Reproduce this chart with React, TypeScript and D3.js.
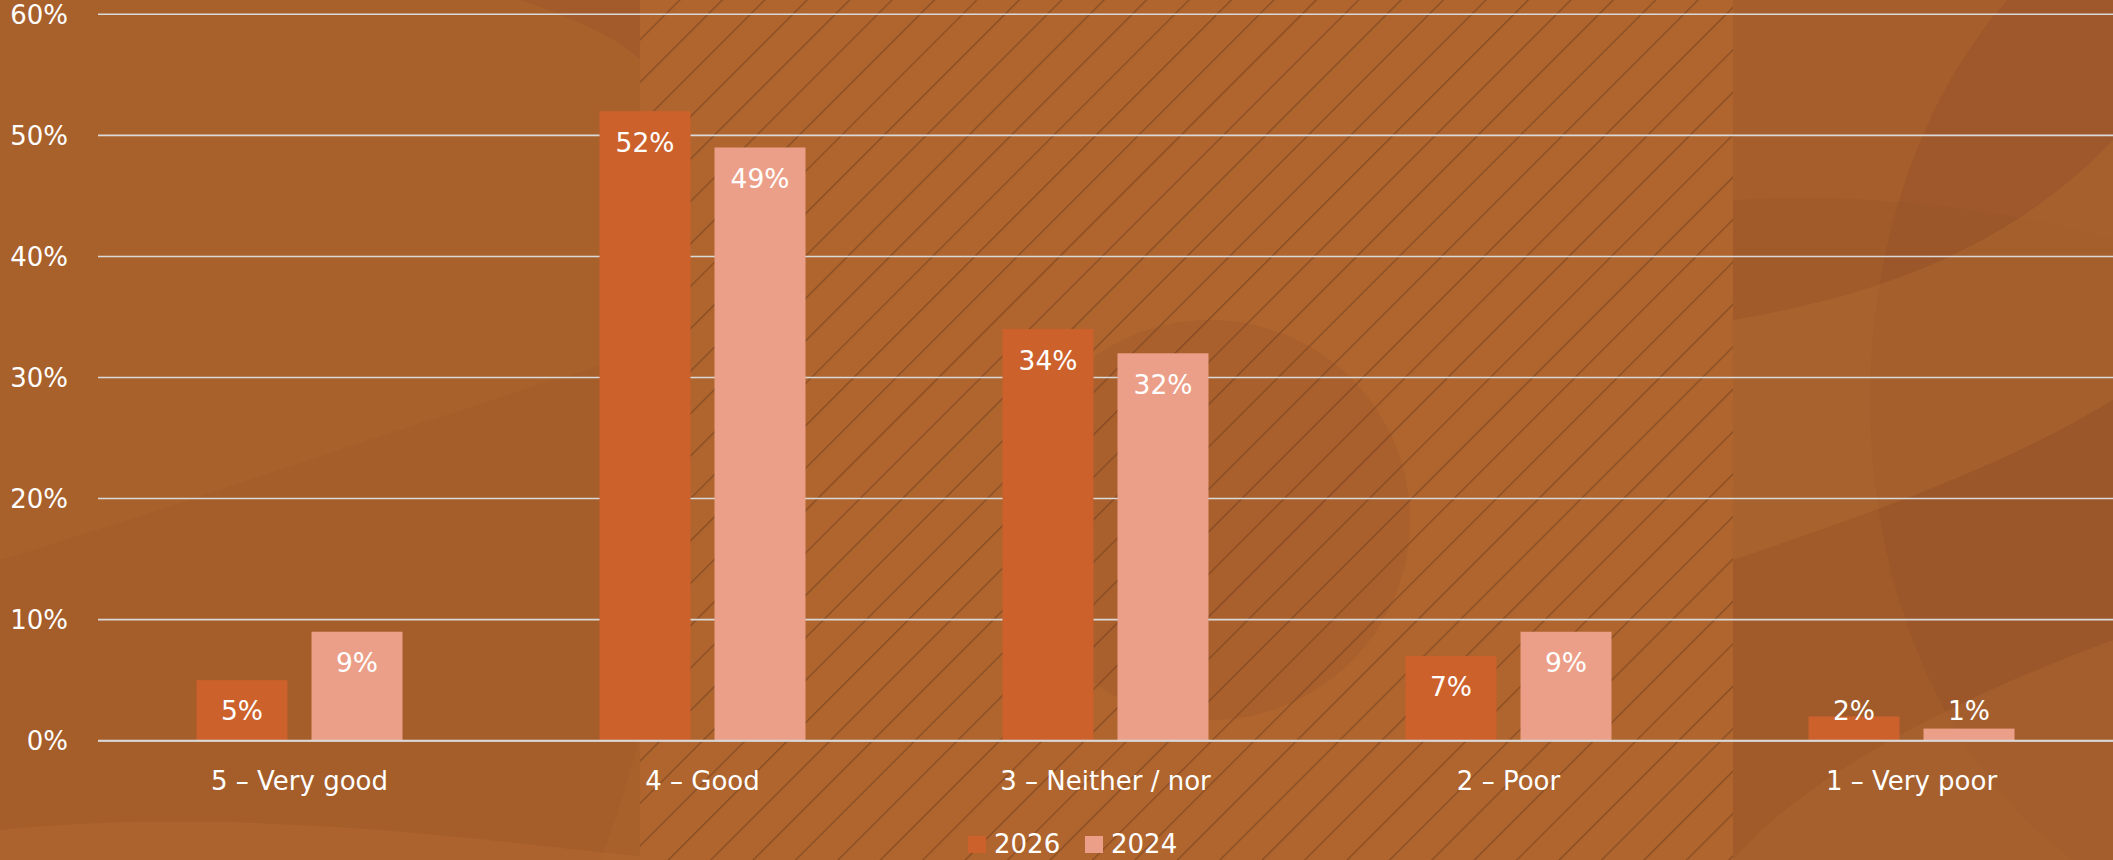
import React from "react";
import * as d3 from "d3";

const categories = ["5 – Very good", "4 – Good", "3 – Neither / nor", "2 – Poor", "1 – Very poor"];
const seriesNames = ["2026", "2024"];
const values2026 = [0.05, 0.52, 0.34, 0.07, 0.02];
const values2024 = [0.09, 0.49, 0.32, 0.09, 0.01];
const yTicks = [0, 0.1, 0.2, 0.3, 0.4, 0.5, 0.6];
const seriesColors = ["#CD612C", "#EC9F88"];

const W = 2113;
const H = 860;
const FONT = "'DejaVu Sans', Verdana, sans-serif";

export default function App() {
  const y = d3.scaleLinear().domain([0, 0.6]).range([740.7, 14.3]);
  const x0 = d3.scaleBand<string>().domain(categories).range([98, 2113]).padding(0);
  const x1 = d3
    .scaleBand<string>()
    .domain(seriesNames)
    .range([0, x0.bandwidth()])
    .paddingInner(0.2087)
    .paddingOuter(0.8565);
  const fmt = d3.format(".0%");
  const seriesValues = [values2026, values2024];

  return (
    <div style={{ position: "fixed", left: 0, top: 0, width: W, height: H }}>
      <svg width={W} height={H} style={{ display: "block" }}>
        <defs>
          <pattern id="hatch" patternUnits="userSpaceOnUse" width="30" height="30" patternTransform="rotate(45)">
            <line x1="0" y1="0" x2="0" y2="30" stroke="#6E3A1C" strokeOpacity="0.6" strokeWidth="2.6" />
          </pattern>
          <clipPath id="hatchClip">
            <rect x={640} y={0} width={1093} height={H} />
          </clipPath>
        </defs>
        {/* background */}
        <rect x={0} y={0} width={W} height={H} fill="#A9612C" />
        <path d="M0,560 C200,500 420,420 620,360 C700,560 640,760 600,860 L0,860 Z" fill="#9E5629" opacity={0.35} />
        <path d="M0,830 C300,800 600,860 700,860 L0,860 Z" fill="#B36A2F" opacity={0.5} />
        <path d="M520,0 C580,20 620,40 640,60 L640,0 Z" fill="#9E5629" opacity={0.5} />
        <g clipPath="url(#hatchClip)">
          <rect x={640} y={0} width={1093} height={H} fill="#AF652D" />
          <circle cx={1210} cy={520} r={200} fill="#A05A2A" opacity={0.4} />
          <rect x={640} y={0} width={1093} height={H} fill="url(#hatch)" />
        </g>
        <path d="M1733,0 L2113,0 L2113,860 L1733,860 Z" fill="#A65E2C" />
        <path d="M1733,200 C1900,190 2050,220 2113,240 L2113,860 L1733,860 Z" fill="#A05A2A" opacity={0.7} />
        <ellipse cx={2250} cy={400} rx={380} ry={520} fill="#95522A" opacity={0.5} />
        <path d="M1733,320 C1850,300 2000,260 2113,140 L2113,400 C2000,470 1850,520 1733,560 Z" fill="#B06A30" opacity={0.45} />
        <path d="M1733,860 C1800,780 1950,700 2113,640 L2113,860 Z" fill="#AA6430" opacity={0.6} />

        {/* gridlines */}
        {yTicks.map((t) => (
          <line key={t} x1={98} x2={W} y1={y(t)} y2={y(t)} stroke="#D9D9D9" strokeWidth={1.6} />
        ))}
        {/* y tick labels */}
        {yTicks.map((t) => (
          <text
            key={"l" + t}
            x={68}
            y={y(t)}
            dy="0.36em"
            textAnchor="end"
            fontFamily={FONT}
            fontSize={26}
            fill="#FFFFFF"
          >
            {fmt(t)}
          </text>
        ))}

        {/* bars */}
        {categories.map((c, i) => (
          <g key={c} transform={`translate(${x0(c)},0)`}>
            {seriesNames.map((s, j) => {
              const v = seriesValues[j][i];
              const top = y(v);
              const bx = x1(s)!;
              const bw = x1.bandwidth();
              const labelY = Math.min(top + 40.5, 720);
              return (
                <g key={s}>
                  <rect x={bx} y={top} width={bw} height={y(0) - top} fill={seriesColors[j]} />
                  <text
                    x={bx + bw / 2}
                    y={labelY}
                    textAnchor="middle"
                    fontFamily={FONT}
                    fontSize={26.5}
                    fill="#FFFFFF"
                  >
                    {fmt(v)}
                  </text>
                </g>
              );
            })}
            <text
              x={x0.bandwidth() / 2}
              y={790}
              textAnchor="middle"
              fontFamily={FONT}
              fontSize={26}
              fill="#FFFFFF"
            >
              {c}
            </text>
          </g>
        ))}
        {/* zero axis line */}
        <line x1={98} x2={W} y1={y(0)} y2={y(0)} stroke="#D9D9D9" strokeWidth={2} />

        {/* legend */}
        {seriesNames.map((s, j) => {
          const lx = [968, 1085][j];
          return (
            <g key={"lg" + s}>
              <rect x={lx} y={836} width={18} height={17} fill={seriesColors[j]} />
              <text x={lx + 26} y={853} fontFamily={FONT} fontSize={26} fill="#FFFFFF">
                {s}
              </text>
            </g>
          );
        })}
      </svg>
    </div>
  );
}
